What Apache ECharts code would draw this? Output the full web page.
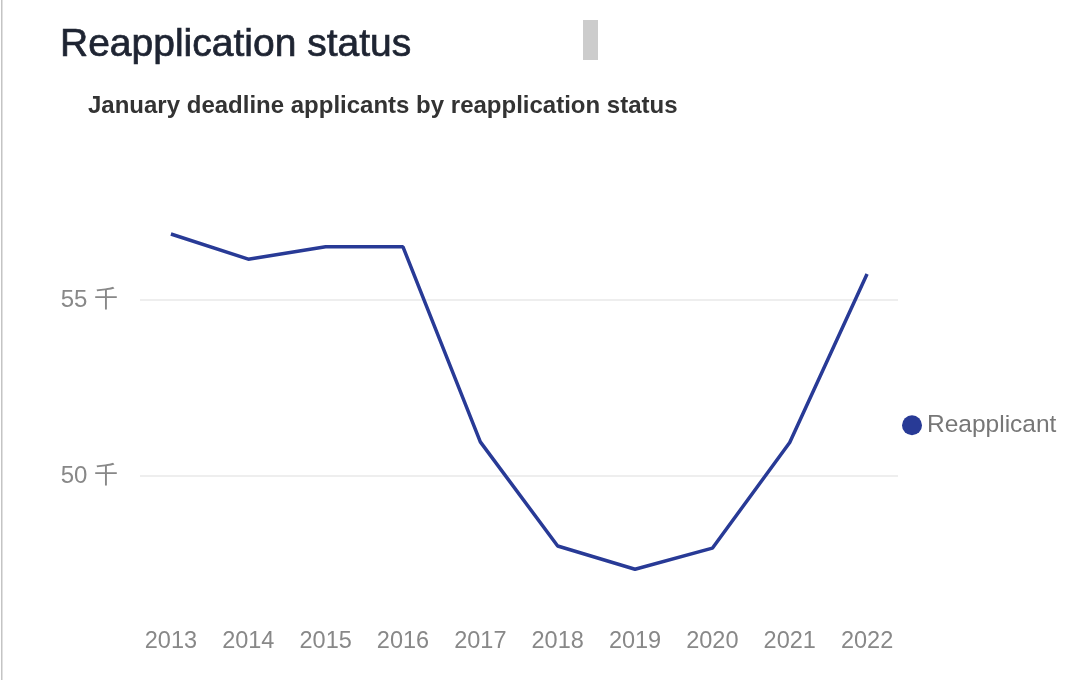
<!DOCTYPE html>
<html>
<head>
<meta charset="utf-8">
<script src="https://cdn.jsdelivr.net/npm/echarts@6/dist/echarts.min.js"></script>
<style>
html,body{margin:0;padding:0;background:#fff;}
#chart{width:1080px;height:680px;}
</style>
</head>
<body>
<div id="chart"></div>
<script>
const years = [2013, 2014, 2015, 2016, 2017, 2018, 2019, 2020, 2021, 2022];
const reapplicant = [56875, 56160, 56510, 56510, 50970, 48010, 47350, 47950, 50950, 55740];
const yTicks = [50000, 55000];
const titleText = 'Reapplication status';
const subtitleText = 'January deadline applicants by reapplication status';
const seriesName = 'Reapplicant';

const FONT = '"Liberation Sans", Helvetica, Arial, "Noto Sans CJK SC", sans-serif';
const chart = echarts.init(document.getElementById('chart'));
chart.setOption({
  backgroundColor: '#fff',
  animation: false,
  textStyle: { fontFamily: FONT },
  graphic: [
    { type: 'rect', shape: { x: 1, y: 0, width: 1.5, height: 680 }, style: { fill: '#c4c4c4' } },
    { type: 'rect', shape: { x: 583, y: 20, width: 15, height: 40 }, style: { fill: '#cccccc' } },
    { type: 'text', x: 60, y: 26, style: { text: titleText, fontSize: 39, fontFamily: FONT, fill: '#1e2432', stroke: '#1e2432', lineWidth: 0.7, textVerticalAlign: 'top' } },
    { type: 'text', x: 88, y: 94, style: { text: subtitleText, fontSize: 24, fontWeight: 'bold', fontFamily: FONT, fill: '#333', textVerticalAlign: 'top' } }
  ],
  legend: {
    data: [seriesName],
    orient: 'vertical',
    left: 902,
    top: 413,
    padding: 0,
    icon: 'circle',
    itemWidth: 20,
    itemHeight: 20,
    itemGap: 10,
    textStyle: { fontSize: 24.5, color: '#777', fontFamily: FONT }
  },
  grid: { left: 140, right: 182, top: 124, bottom: 28, containLabel: false },
  xAxis: {
    type: 'value',
    min: 2012.6,
    max: 2022.4,
    axisLine: { show: false },
    axisTick: { show: false },
    splitLine: { show: false },
    axisLabel: {
      customValues: years,
      formatter: v => String(v),
      fontSize: 23.5,
      color: '#888',
      margin: -22,
      fontFamily: FONT
    }
  },
  yAxis: {
    type: 'value',
    min: 45000,
    max: 60000,
    interval: 5000,
    axisLine: { show: false },
    axisTick: { show: false },
    axisLabel: {
      showMinLabel: false,
      showMaxLabel: false,
      formatter: v => (yTicks.indexOf(v) >= 0 ? (v / 1000) + ' 千' : ''),
      fontSize: 24,
      color: '#888',
      margin: 22,
      fontFamily: FONT
    },
    splitLine: { show: true, showMinLine: false, showMaxLine: false, lineStyle: { color: '#e8e8e8', width: 1.5 } }
  },
  series: [{
    name: seriesName,
    type: 'line',
    data: years.map((y, i) => [y, reapplicant[i]]),
    symbol: 'none',
    lineStyle: { color: '#283a96', width: 3.5 },
    itemStyle: { color: '#283a96' }
  }]
});
</script>
</body>
</html>
